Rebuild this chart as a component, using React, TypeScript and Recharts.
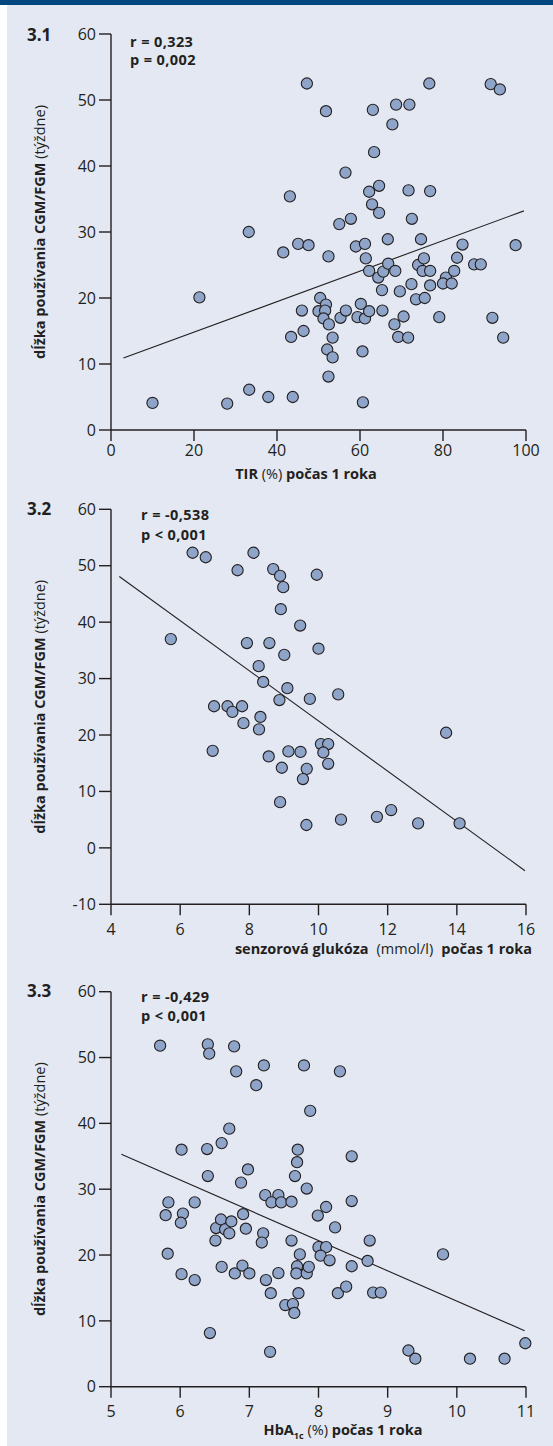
import React from "react";
import { ScatterChart, Scatter, XAxis, YAxis, ReferenceLine, Label } from "recharts";

const FONT = "'Open Sans', 'Noto Sans', sans-serif";
const INK = "#231f20";
const DOT_FILL = "#8fa4c9";
const BG = "#e3e8f2";
const BAR = "#00467f";

// ---- 3.1 TIR (%) vs weeks ----
const tirPercent = [
  47.2, 51.8, 63.1, 68.7, 71.9, 76.7, 91.5, 93.7, 67.8, 63.4, 56.5, 43.1, 62.2, 64.6, 71.7, 76.9,
  62.9, 64.6, 57.8, 55.0, 72.5, 41.5, 45.1, 47.6, 52.4, 59.0, 61.2, 66.7, 74.7, 84.7, 97.5, 61.4,
  62.2, 64.4, 65.6, 66.8, 68.5, 65.3, 69.6, 72.4, 74.0, 75.4, 75.1, 76.9, 76.9, 73.5, 75.6, 79.1,
  80.7, 80.0, 82.1, 82.7, 83.4, 87.5, 89.1, 91.9, 94.5, 50.4, 51.8, 50.0, 51.6, 46.0, 51.2, 52.5,
  55.3, 56.6, 60.2, 59.4, 61.2, 62.2, 65.4, 68.3, 70.5, 69.2, 71.6, 46.4, 43.4, 53.4, 52.1, 53.4,
  60.6, 52.4, 60.7, 43.8, 37.9, 33.2, 21.3, 10.0, 28.0, 33.3,
];
const tirWeeks = [
  52.5, 48.3, 48.5, 49.3, 49.3, 52.5, 52.4, 51.6, 46.3, 42.1, 39.0, 35.4, 36.1, 37.0, 36.3, 36.2,
  34.2, 32.9, 32.0, 31.2, 32.0, 26.9, 28.2, 28.0, 26.3, 27.8, 28.2, 28.9, 28.9, 28.1, 28.0, 26.0,
  24.1, 23.1, 24.0, 25.2, 24.1, 21.2, 21.0, 22.1, 25.0, 26.0, 24.1, 24.1, 21.9, 19.8, 20.0, 17.1,
  23.1, 22.2, 22.2, 24.1, 26.1, 25.1, 25.1, 17.0, 14.0, 20.0, 19.0, 18.0, 18.1, 18.1, 16.9, 16.0,
  17.0, 18.1, 19.1, 17.1, 16.9, 18.0, 18.1, 16.0, 17.2, 14.1, 14.0, 15.0, 14.1, 14.0, 12.2, 11.0,
  11.9, 8.1, 4.2, 5.0, 5.0, 30.0, 20.1, 4.1, 4.0, 6.1,
];
const tirTicks = [0, 20, 40, 60, 80, 100];
const weeksTicks1 = [0, 10, 20, 30, 40, 50, 60];
const tirFitX = [3, 99.5];
const tirFitY = [10.9, 33.2];

// ---- 3.2 sensor glucose vs weeks ----
const glucoseMmol = [
  6.36, 6.74, 8.12, 7.66, 8.69, 8.89, 8.98, 9.95, 8.91, 9.47, 9.01, 10.0, 9.1, 9.75, 10.57, 5.73,
  7.93, 8.58, 8.27, 8.4, 6.98, 7.37, 7.51, 7.79, 7.83, 8.32, 8.28, 8.87, 6.94, 8.56, 9.13, 9.48,
  8.94, 9.66, 9.55, 10.07, 10.28, 10.14, 10.28, 8.89, 9.65, 10.65, 11.69, 12.1, 12.88, 14.08, 13.69,
];
const glucoseWeeks = [
  52.3, 51.5, 52.3, 49.2, 49.4, 48.2, 46.2, 48.4, 42.3, 39.4, 34.2, 35.3, 28.3, 26.4, 27.2, 37.0,
  36.3, 36.3, 32.2, 29.4, 25.1, 25.1, 24.1, 25.1, 22.1, 23.2, 21.0, 26.2, 17.2, 16.2, 17.1, 17.0,
  14.2, 14.0, 12.2, 18.4, 18.4, 16.9, 14.9, 8.1, 4.05, 5.0, 5.5, 6.7, 4.35, 4.35, 20.4,
];
const glucoseTicks = [4, 6, 8, 10, 12, 14, 16];
const weeksTicks2 = [-10, 0, 10, 20, 30, 40, 50, 60];
const glucoseFitX = [4.24, 15.97];
const glucoseFitY = [48.1, -4.05];

// ---- 3.3 HbA1c vs weeks ----
const hba1cPercent = [
  5.71, 6.4, 6.42, 6.78, 6.81, 7.21, 7.1, 6.71, 6.6, 6.02, 6.39, 6.4, 6.98, 6.88, 7.23, 7.79,
  8.31, 7.88, 7.7, 7.69, 7.66, 7.83, 8.48, 7.42, 5.79, 5.83, 5.82, 6.04, 6.01, 6.21, 6.02, 6.21,
  6.43, 6.52, 6.51, 6.59, 6.65, 6.71, 6.74, 6.6, 6.79, 6.9, 7.0, 6.91, 6.95, 7.32, 7.46, 7.61,
  7.2, 7.18, 7.24, 7.31, 7.3, 7.42, 7.52, 7.63, 7.65, 7.61, 7.73, 7.69, 7.68, 7.83, 7.86, 7.71,
  7.99, 8.11, 8.0, 8.11, 8.03, 8.16, 8.24, 8.28, 8.4, 8.48, 8.48, 8.74, 8.71, 8.79, 8.9, 9.3,
  9.4, 9.8, 10.19, 10.69, 10.99,
];
const hba1cWeeks = [
  51.8, 52.0, 50.6, 51.7, 47.9, 48.8, 45.8, 39.2, 37.0, 36.0, 36.1, 32.0, 33.0, 31.0, 29.1, 48.8,
  47.9, 41.9, 36.0, 34.1, 32.0, 30.1, 35.0, 29.1, 26.05, 28.0, 20.2, 26.3, 24.9, 28.0, 17.1, 16.2,
  8.15, 24.1, 22.2, 25.4, 23.9, 23.3, 25.1, 18.2, 17.2, 18.4, 17.2, 26.2, 24.0, 28.0, 28.0, 28.1,
  23.3, 21.9, 16.2, 14.2, 5.3, 17.25, 12.4, 12.55, 11.2, 22.2, 20.1, 18.3, 17.2, 17.2, 18.2, 14.2,
  26.0, 27.3, 21.2, 21.2, 19.9, 19.2, 24.2, 14.2, 15.2, 28.2, 18.3, 22.2, 19.1, 14.3, 14.3, 5.5,
  4.25, 20.1, 4.25, 4.25, 6.6,
];
const hba1cTicks = [5, 6, 7, 8, 9, 10, 11];
const weeksTicks3 = [0, 10, 20, 30, 40, 50, 60];
const hba1cFitX = [5.15, 10.98];
const hba1cFitY = [35.3, 8.5];

const zip = (xs: number[], ys: number[]) => xs.map((x, i) => ({ x, y: ys[i] }));

const renderDot = (p: any) => (
  <circle cx={p.cx} cy={p.cy} r={5.6} fill={DOT_FILL} stroke={INK} strokeWidth={1.1} />
);

const yTitle = (props: any) => {
  const vb = props.viewBox || {};
  const cy = vb.y + vb.height / 2;
  const x = 45;
  return (
    <text
      x={x}
      y={cy}
      transform={`rotate(-90, ${x}, ${cy})`}
      textAnchor="middle"
      fontFamily={FONT}
      fontSize={14.5}
      fill={INK}
    >
      <tspan fontWeight={700}>dĺžka používania CGM/FGM</tspan>
      <tspan fontWeight={400}> (týždne)</tspan>
    </text>
  );
};

type PanelProps = {
  top: number;
  height: number;
  marginTop: number;
  marginBottom: number;
  data: { x: number; y: number }[];
  xDomain: [number, number];
  xTicks: number[];
  yDomain: [number, number];
  yTicks: number[];
  fitX: number[];
  fitY: number[];
  xTickMargin: number;
  xTitle: (p: any) => React.ReactElement;
  num: string;
  numY: number;
  statX: number;
  statY: number[];
  stats: string[];
};

function Panel(p: PanelProps) {
  return (
    <div style={{ position: "absolute", left: 0, top: p.top, width: 553, height: p.height }}>
      <ScatterChart
        width={553}
        height={p.height}
        margin={{ top: p.marginTop, right: 27, bottom: p.marginBottom, left: 0 }}
      >
        <XAxis
          type="number"
          dataKey="x"
          domain={p.xDomain}
          ticks={p.xTicks}
          interval={0}
          height={30}
          tickSize={11}
          tickMargin={p.xTickMargin}
          axisLine={{ stroke: INK, strokeWidth: 1.4 }}
          tickLine={{ stroke: INK, strokeWidth: 1.4 }}
          tick={{ fill: INK, fontSize: 16, fontFamily: FONT }}
        >
          <Label content={p.xTitle} />
        </XAxis>
        <YAxis
          type="number"
          dataKey="y"
          domain={p.yDomain}
          ticks={p.yTicks}
          interval={0}
          width={111}
          tickSize={12}
          tickMargin={3}
          axisLine={{ stroke: INK, strokeWidth: 1.4 }}
          tickLine={{ stroke: INK, strokeWidth: 1.4 }}
          tick={{ fill: INK, fontSize: 16, fontFamily: FONT }}
        >
          <Label content={yTitle} />
        </YAxis>
        <ReferenceLine
          segment={[
            { x: p.fitX[0], y: p.fitY[0] },
            { x: p.fitX[1], y: p.fitY[1] },
          ]}
          stroke={INK}
          strokeWidth={1.1}
          ifOverflow="visible"
        />
        <Scatter data={p.data} shape={renderDot} isAnimationActive={false} />
      </ScatterChart>
      <svg
        width={553}
        height={p.height}
        style={{ position: "absolute", left: 0, top: 0, pointerEvents: "none" }}
      >
        <text x={27} y={p.numY} fontFamily={FONT} fontSize={17} fontWeight={700} fill={INK}>
          {p.num}
        </text>
        {p.stats.map((s, i) => (
          <text
            key={s}
            x={p.statX}
            y={p.statY[i]}
            fontFamily={FONT}
            fontSize={14.5}
            letterSpacing={0.4}
            fontWeight={700}
            fill={INK}
          >
            {s}
          </text>
        ))}
      </svg>
    </div>
  );
}

const xTitle1 = () => (
  <text x={306} y={479} textAnchor="middle" fontFamily={FONT} fontSize={14.5} fill={INK}>
    <tspan fontWeight={700}>TIR</tspan>
    <tspan fontWeight={400}> (%) </tspan>
    <tspan fontWeight={700}>počas 1 roka</tspan>
  </text>
);

const xTitle2 = () => (
  <text x={532} y={474} textAnchor="end" fontFamily={FONT} fontSize={14.5} fill={INK}>
    <tspan fontWeight={700}>senzorová glukóza</tspan>
    <tspan fontWeight={400} dx={8}>(mmol/l)</tspan>
    <tspan fontWeight={700} dx={8}>počas 1 roka</tspan>
  </text>
);

const xTitle3 = () => (
  <text x={343} y={465} textAnchor="middle" fontFamily={FONT} fontSize={14.5} fill={INK}>
    <tspan fontWeight={700}>HbA</tspan>
    <tspan fontWeight={700} fontSize={9} dy={4}>1c</tspan>
    <tspan fontWeight={400} dy={-4}> (%) </tspan>
    <tspan fontWeight={700}>počas 1 roka</tspan>
  </text>
);

export default function App() {
  return (
    <div style={{ position: "absolute", left: 0, top: 0, width: 553, height: 1446, background: "#ffffff" }}>
      <div style={{ position: "absolute", left: 0, top: 0, width: 553, height: 5, background: BAR }} />
      <div style={{ position: "absolute", left: 7, top: 5, width: 546, height: 1441, background: BG }} />
      <Panel
        top={0}
        height={490}
        marginTop={34}
        marginBottom={30}
        data={zip(tirPercent, tirWeeks)}
        xDomain={[0, 100]}
        xTicks={tirTicks}
        yDomain={[0, 60]}
        yTicks={weeksTicks1}
        fitX={tirFitX}
        fitY={tirFitY}
        xTickMargin={4}
        xTitle={xTitle1}
        num="3.1"
        numY={40.5}
        statX={130}
        statY={[46.7, 65]}
        stats={["r = 0,323", "p = 0,002"]}
      />
      <Panel
        top={480}
        height={490}
        marginTop={29.3}
        marginBottom={35.7}
        data={zip(glucoseMmol, glucoseWeeks)}
        xDomain={[4, 16]}
        xTicks={glucoseTicks}
        yDomain={[-10, 60]}
        yTicks={weeksTicks2}
        fitX={glucoseFitX}
        fitY={glucoseFitY}
        xTickMargin={8}
        xTitle={xTitle2}
        num="3.2"
        numY={34.5}
        statX={141}
        statY={[40, 59.5]}
        stats={["r = -0,538", "p < 0,001"]}
      />
      <Panel
        top={970}
        height={476}
        marginTop={21.7}
        marginBottom={29.3}
        data={zip(hba1cPercent, hba1cWeeks)}
        xDomain={[5, 11]}
        xTicks={hba1cTicks}
        yDomain={[0, 60]}
        yTicks={weeksTicks3}
        fitX={hba1cFitX}
        fitY={hba1cFitY}
        xTickMargin={8}
        xTitle={xTitle3}
        num="3.3"
        numY={27}
        statX={141}
        statY={[31.7, 51]}
        stats={["r = -0,429", "p < 0,001"]}
      />
    </div>
  );
}
